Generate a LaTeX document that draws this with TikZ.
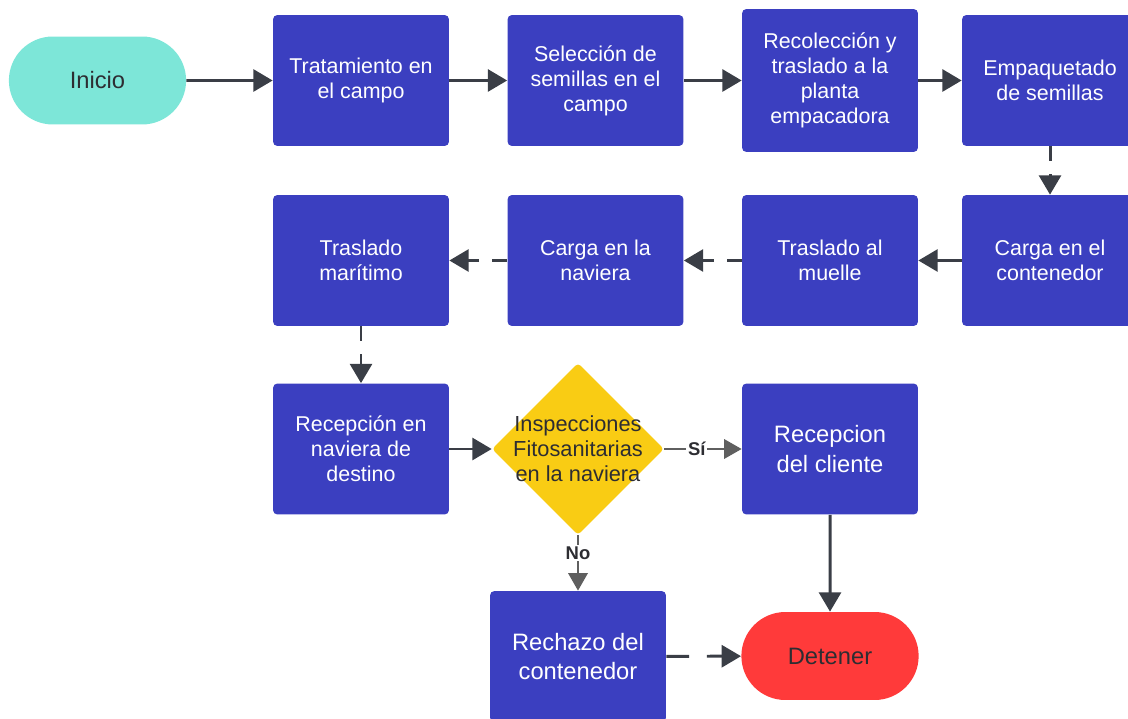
\documentclass[tikz,border=0pt]{standalone}
\usepackage{fontspec}
\setmainfont{Liberation Sans}
\usetikzlibrary{shapes,arrows.meta,positioning}

\definecolor{procblue}{RGB}{59,63,192}
\definecolor{startteal}{RGB}{125,230,216}
\definecolor{stopred}{RGB}{255,58,58}
\definecolor{checkyellow}{RGB}{249,204,20}
\definecolor{linedark}{RGB}{58,62,70}
\definecolor{linegray}{RGB}{95,95,95}
\definecolor{textdark}{RGB}{45,45,50}

\tikzset{
  procbox/.style={rectangle, rounded corners=2.5pt, fill=procblue, text=white, minimum width=3.52cm, minimum height=2.62cm, align=center, font=\fontsize{12.2}{14.2}\selectfont},
  bigtext/.style={font=\fontsize{13.5}{17}\selectfont},
  terminal/.style={rounded rectangle, minimum width=3.78cm, minimum height=1.76cm, text=textdark, font=\fontsize{13.5}{16}\selectfont},
  flow/.style={-{Triangle[length=11pt, width=12.5pt]}, line width=1.7pt, draw=linedark},
  dflow/.style={flow, dash pattern=on 8.5pt off 7.5pt},
  gflow/.style={-{Triangle[length=10pt, width=11pt]}, line width=1.4pt, draw=linegray},
  choice/.style={font=\bfseries\fontsize{10.5}{12}\selectfont, text=textdark, fill=white, inner sep=1pt}
}

\begin{document}
\begin{tikzpicture}[x=0.02cm, y=-0.02cm]
    \useasboundingbox (0,0) rectangle (1128,719);

    % Start and end
    \node[terminal, fill=startteal] (start) at (97.5,80.5) {Inicio};
    \node[terminal, fill=stopred] (stop) at (830,656) {Detener};

    % First row
    \node[procbox] (field) at (361,80.5) {Tratamiento en\\el campo};
    \node[procbox] (select) at (595.5,80.5) {Selección de\\semillas en el\\campo};
    \node[procbox, minimum height=2.86cm] (harvest) at (830,80.5) {Recolección y\\traslado a la\\planta\\empacadora};
    \node[procbox] (pack) at (1050,80.5) {Empaquetado\\de semillas};

    % Second row
    \node[procbox] (load) at (1050,260.5) {Carga en el\\contenedor};
    \node[procbox] (dock) at (830,260.5) {Traslado al\\muelle};
    \node[procbox] (ship) at (595.5,260.5) {Carga en la\\naviera};
    \node[procbox] (sea) at (361,260.5) {Traslado\\marítimo};

    % Third row
    \node[procbox] (port) at (361,449) {Recepción en\\naviera de\\destino};
    \node[diamond, rounded corners=2pt, fill=checkyellow, minimum width=3.44cm, minimum height=3.44cm, inner sep=0pt] (check) at (578,449) {};
    \node[align=center, text=textdark, font=\fontsize{12.4}{14.2}\selectfont] (checktext) at (check) {Inspecciones\\Fitosanitarias\\en la naviera};
    \node[procbox, bigtext] (client) at (830,449) {Recepcion\\del cliente};

    % Rejection
    \node[procbox, bigtext] (reject) at (578,656.5) {Rechazo del\\contenedor};

    % Connectors
    \draw[flow] (start) -- (field);
    \draw[flow] (field) -- (select);
    \draw[flow] (select) -- (harvest);
    \draw[flow] (harvest) -- (pack);
    \draw[dflow] (pack) -- (load);
    \draw[flow] (load) -- (dock);
    \draw[dflow] (dock) -- (ship);
    \draw[dflow] (ship) -- (sea);
    \draw[dflow] (sea) -- (port);
    \draw[flow] (port) -- (check);
    \draw[gflow] (check.east) -- node[choice, pos=0.42] (yes) {Sí} (client);
    \draw[gflow] (check.south) -- node[choice, pos=0.32] (no) {No} (reject);
    \draw[flow] (client) -- (stop);
    \draw[dflow, dash pattern=on 13pt off 10pt] (reject) -- (stop);
\end{tikzpicture}
\end{document}
